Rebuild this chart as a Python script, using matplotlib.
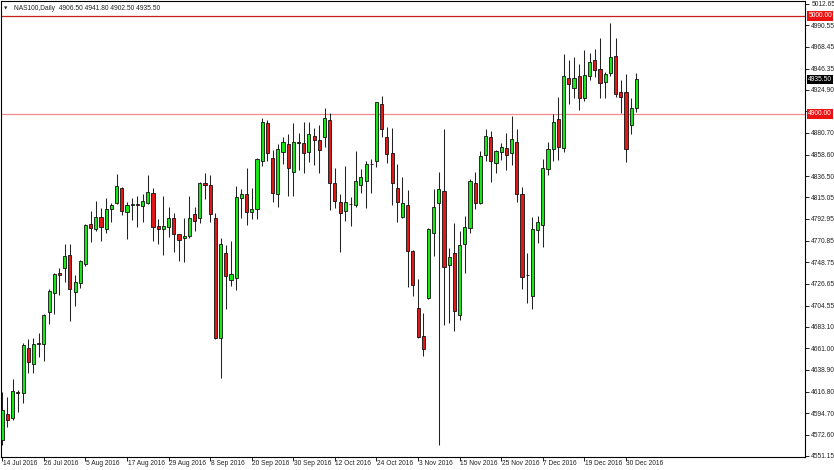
import matplotlib
matplotlib.use("Agg")
import matplotlib.pyplot as plt
import matplotlib.transforms as mtransforms
import numpy as np

# ---- data (NAS100 Daily) ----
opens = [4567.3, 4593.9, 4589.5, 4616.0, 4615.0, 4660.9, 4644.9, 4666.7, 4665.0, 4698.3,
         4717.7, 4737.4, 4742.5, 4756.1, 4718.0, 4727.2, 4746.6, 4787.8, 4782.3, 4794.6,
         4782.3, 4803.1, 4808.8, 4824.2, 4800.3, 4807.5, 4808.2, 4806.1, 4808.9, 4819.1,
         4785.7, 4782.7, 4785.0, 4794.2, 4777.2, 4773.1, 4775.5, 4797.6, 4793.5, 4829.3,
         4827.6, 4794.2, 4671.1, 4757.8, 4730.6, 4733.0, 4814.0, 4818.0, 4799.7, 4803.1,
         4852.4, 4890.5, 4854.8, 4818.0, 4861.6, 4869.1, 4841.2, 4871.1, 4870.1, 4860.9,
         4877.6, 4873.5, 4876.9, 4893.9, 4829.3, 4810.5, 4801.4, 4808.5, 4807.1, 4827.6,
         4832.0, 4849.3, 4852.0, 4909.9, 4876.2, 4859.9, 4824.2, 4795.2, 4807.1, 4760.2,
         4701.7, 4673.8, 4711.9, 4778.2, 4808.8, 4821.4, 4745.9, 4757.8, 4694.9, 4767.0,
         4783.3, 4829.3, 4808.8, 4858.2, 4876.9, 4849.7, 4860.9, 4865.0, 4859.9, 4871.8,
         4818.4, 4735.4, 4714.6, 4781.6, 4786.7, 4843.5, 4864.0, 4894.6, 4865.6, 4937.1,
         4926.2, 4938.8, 4916.7, 4939.1, 4955.1, 4945.9, 4933.0, 4941.5, 4959.2, 4922.8,
         4922.1, 4888.8, 4906.5]
highs = [4616.7, 4611.6, 4629.6, 4618.4, 4666.7, 4670.4, 4671.1, 4676.9, 4695.6, 4721.1,
         4738.1, 4743.2, 4767.3, 4767.0, 4735.7, 4751.0, 4787.4, 4801.4, 4811.2, 4804.4,
         4814.6, 4809.5, 4838.8, 4825.0, 4810.5, 4814.0, 4816.3, 4818.0, 4837.8, 4824.2,
         4792.9, 4816.3, 4804.8, 4799.3, 4777.9, 4794.2, 4816.3, 4804.8, 4831.0, 4839.5,
         4837.8, 4798.6, 4773.1, 4766.0, 4770.8, 4826.5, 4823.1, 4844.6, 4824.2, 4854.8,
         4895.6, 4893.9, 4863.3, 4869.1, 4876.9, 4879.6, 4890.5, 4881.0, 4891.5, 4892.2,
         4886.1, 4888.8, 4905.8, 4900.7, 4844.6, 4818.4, 4846.9, 4815.7, 4862.2, 4843.5,
         4852.0, 4853.7, 4912.6, 4918.0, 4886.4, 4885.4, 4849.0, 4835.4, 4822.5, 4761.0,
         4731.3, 4697.3, 4783.3, 4823.1, 4841.2, 4884.4, 4762.9, 4789.1, 4780.6, 4795.9,
         4833.3, 4841.2, 4862.2, 4884.7, 4882.7, 4863.3, 4870.8, 4880.3, 4898.0, 4884.4,
         4825.9, 4757.8, 4795.2, 4795.9, 4854.1, 4871.8, 4900.0, 4917.7, 4960.9, 4955.1,
         4958.5, 4950.7, 4965.3, 4961.9, 4966.0, 4977.9, 4943.2, 4992.5, 4977.9, 4934.7,
         4940.5, 4916.0, 4941.8]
lows = [4562.2, 4581.0, 4587.8, 4596.3, 4605.4, 4635.4, 4635.4, 4651.7, 4648.3, 4685.4,
        4695.6, 4715.3, 4728.2, 4689.1, 4704.4, 4722.8, 4745.0, 4769.1, 4781.0, 4770.8,
        4778.9, 4790.1, 4807.8, 4796.9, 4772.1, 4791.8, 4785.0, 4790.1, 4808.2, 4770.8,
        4767.4, 4756.1, 4774.8, 4759.5, 4750.3, 4748.6, 4773.1, 4781.0, 4788.4, 4812.9,
        4790.1, 4670.4, 4630.3, 4700.7, 4724.8, 4720.4, 4793.5, 4786.7, 4792.5, 4792.5,
        4846.9, 4852.4, 4810.5, 4805.4, 4849.0, 4816.3, 4816.3, 4842.9, 4839.5, 4851.4,
        4848.0, 4839.5, 4866.7, 4802.0, 4803.7, 4759.5, 4790.8, 4785.7, 4805.4, 4819.7,
        4803.7, 4819.1, 4846.3, 4876.9, 4849.7, 4807.1, 4790.1, 4793.5, 4723.8, 4714.6,
        4671.1, 4653.4, 4711.0, 4755.4, 4562.2, 4684.7, 4686.4, 4678.9, 4689.8, 4737.4,
        4778.2, 4803.1, 4808.2, 4852.0, 4831.0, 4839.5, 4853.1, 4842.9, 4848.0, 4809.9,
        4721.4, 4706.8, 4700.7, 4768.7, 4764.6, 4837.8, 4852.4, 4853.1, 4860.9, 4909.9,
        4916.7, 4904.1, 4913.3, 4934.7, 4938.1, 4916.0, 4916.7, 4939.1, 4917.7, 4900.7,
        4851.4, 4879.3, 4902.5]
closes = [4598.0, 4587.8, 4617.7, 4615.0, 4664.3, 4646.6, 4665.0, 4665.3, 4694.9, 4719.7,
          4736.7, 4736.1, 4755.1, 4721.1, 4728.9, 4750.0, 4786.7, 4783.3, 4795.2, 4784.4,
          4803.1, 4807.1, 4826.5, 4801.4, 4807.1, 4808.2, 4807.5, 4811.2, 4820.1, 4785.0,
          4782.7, 4785.7, 4794.2, 4777.2, 4771.4, 4775.5, 4794.2, 4791.2, 4829.9, 4827.9,
          4797.6, 4671.1, 4767.4, 4735.0, 4736.7, 4815.7, 4818.0, 4800.3, 4803.4, 4853.7,
          4892.2, 4860.5, 4819.1, 4864.0, 4871.1, 4845.2, 4871.1, 4870.1, 4859.9, 4879.3,
          4873.5, 4863.3, 4895.6, 4829.3, 4811.6, 4799.3, 4810.5, 4807.8, 4831.6, 4835.4,
          4849.0, 4848.6, 4911.9, 4884.4, 4858.8, 4829.3, 4810.5, 4808.8, 4760.5, 4725.5,
          4672.1, 4659.9, 4782.7, 4804.8, 4823.1, 4744.2, 4753.7, 4699.0, 4766.3, 4784.4,
          4831.6, 4808.8, 4857.5, 4877.6, 4852.0, 4862.2, 4866.0, 4858.2, 4874.2, 4818.0,
          4733.3, 4736.1, 4782.3, 4790.1, 4845.2, 4864.0, 4892.2, 4866.7, 4938.8, 4930.3,
          4936.4, 4916.0, 4939.8, 4952.7, 4944.9, 4932.0, 4940.8, 4958.5, 4920.4, 4917.7,
          4863.9, 4906.5, 4935.5]

date_labels = ["14 Jul 2016", "26 Jul 2016", "5 Aug 2016", "17 Aug 2016", "29 Aug 2016",
               "8 Sep 2016", "20 Sep 2016", "30 Sep 2016", "12 Oct 2016", "24 Oct 2016",
               "3 Nov 2016", "15 Nov 2016", "25 Nov 2016", "7 Dec 2016", "19 Dec 2016",
               "30 Dec 2016"]
date_label_bars = [0, 8, 16, 24, 32, 40, 48, 56, 64, 72, 80, 88, 96, 104, 112, 120]

price_ticks = [5012.65, 4990.55, 4968.45, 4946.35, 4924.90, 4902.80, 4880.70, 4858.60,
               4836.50, 4815.05, 4792.95, 4770.85, 4748.75, 4726.65, 4704.55, 4683.10,
               4661.00, 4638.90, 4616.80, 4594.70, 4572.60, 4551.15]
level_lines = [5000.00, 4900.00]
title_text = "NAS100,Daily  4906.50 4941.80 4902.50 4935.50"

# ---- figure ----
W, H = 834, 470
fig = plt.figure(figsize=(W / 100, H / 100), dpi=100)
ax_left, ax_right, ax_top, ax_bot = 1, 805, 1, 456.5
ax = fig.add_axes([ax_left / W, 1 - ax_bot / H, (ax_right - ax_left) / W, (ax_bot - ax_top) / H])

FONT = "Liberation Sans"
FS = 4.8

o = np.array(opens); h = np.array(highs); l = np.array(lows); c = np.array(closes)
x = np.arange(len(o))
up = c >= o
green = "#19e619"
red = "#e01818"

ax.vlines(x, l, h, color="#222222", linewidth=0.75, zorder=2)
body_bottom = np.minimum(o, c)
body_h = np.maximum(np.abs(c - o), 0.6)
ax.bar(x[up], body_h[up], bottom=body_bottom[up], width=0.6, color=green,
       edgecolor="#111111", linewidth=0.6, zorder=3)
ax.bar(x[~up], body_h[~up], bottom=body_bottom[~up], width=0.6, color=red,
       edgecolor="#111111", linewidth=0.6, zorder=3)

# horizontal levels
ax.axhline(level_lines[0], color="#c41e1e", linewidth=0.9, zorder=1)
ax.axhline(level_lines[1], color="#f08a8a", linewidth=0.9, zorder=1)

ax.set_xlim(-0.25, 154.45)
ax.set_ylim(4550.5, 5015.3)

for sp in ax.spines.values():
    sp.set_color("black")
    sp.set_linewidth(0.8)

# right price axis (labels hidden under highlighted boxes are left blank)
box_values = level_lines + [closes[-1]]
def tick_text(v):
    return "" if any(abs(v - b) < 4 for b in box_values) else f"{v:.2f}"

ax.yaxis.tick_right()
ax.set_yticks(price_ticks)
ax.set_yticklabels([tick_text(v) for v in price_ticks], fontsize=FS, family=FONT, color="#222222")
ax.tick_params(axis="y", direction="out", length=3, width=0.6, pad=1.5)

# date labels
ax.set_xticks(date_label_bars)
ax.set_xticklabels([])
ax.tick_params(axis="x", direction="out", length=3, width=0.6)
trans = mtransforms.blended_transform_factory(ax.transData, ax.transAxes)
for b, lab in zip(date_label_bars, date_labels):
    ax.text(b + 0.1, -0.008, lab, transform=trans, ha="left", va="top",
            fontsize=FS, family=FONT, color="#222222", clip_on=False)

# highlighted price boxes on right axis
ytrans = mtransforms.blended_transform_factory(ax.transAxes, ax.transData)
def price_box(val, fc):
    ax.text(1.004, val, f"{val:.2f}", transform=ytrans, ha="left", va="center",
            fontsize=FS, family=FONT, color="white", clip_on=False, zorder=10,
            bbox=dict(boxstyle="square,pad=0.18", fc=fc, ec=fc, lw=0))

price_box(level_lines[0], "#ee1111")
price_box(level_lines[1], "#ee1111")
price_box(closes[-1], "#000000")

# title
ax.text(0.004, 0.988, "\u25BC", transform=ax.transAxes, ha="left", va="top",
        fontsize=3.2, family="DejaVu Sans", color="#222222")
ax.text(0.016, 0.992, title_text, transform=ax.transAxes, ha="left", va="top",
        fontsize=FS, family=FONT, color="#222222")

fig.savefig("out.png", dpi=100, facecolor="white")
